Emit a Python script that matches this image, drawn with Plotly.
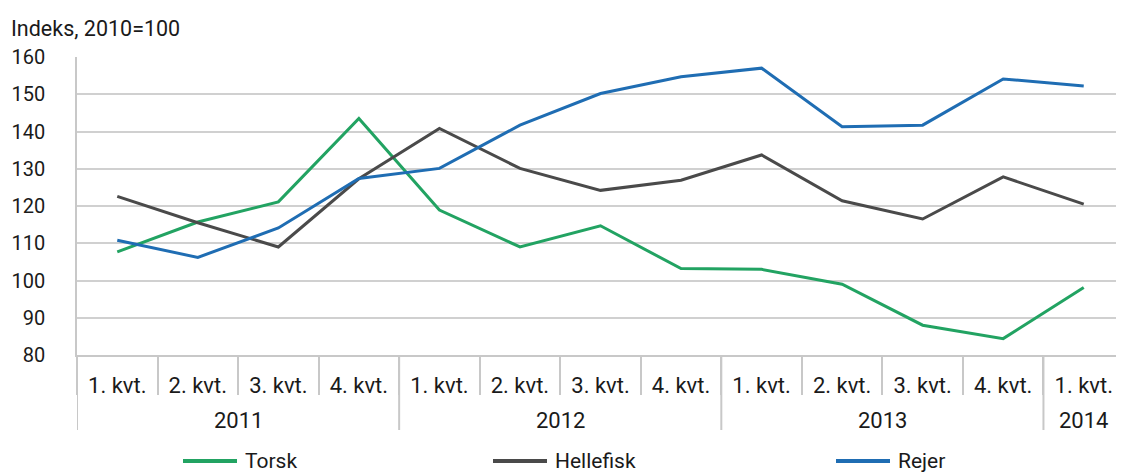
import plotly.graph_objects as go

years = ["2011"] * 4 + ["2012"] * 4 + ["2013"] * 4 + ["2014"]
quarters = ["1. kvt.", "2. kvt.", "3. kvt.", "4. kvt."] * 3 + ["1. kvt."]

torsk = [107.7, 115.7, 121.1, 143.5, 118.9, 109.0, 114.7, 103.2, 103.0, 99.0, 88.0, 84.4, 98.1]
hellefisk = [122.6, 115.5, 109.0, 127.3, 140.8, 130.1, 124.2, 126.9, 133.7, 121.4, 116.5, 127.8, 120.5]
rejer = [110.8, 106.2, 114.1, 127.4, 130.1, 141.7, 150.2, 154.7, 157.0, 141.3, 141.7, 154.1, 152.2]

series_names = ["Torsk", "Hellefisk", "Rejer"]
series_values = [torsk, hellefisk, rejer]
colors = ["#22a362", "#4a4a4a", "#1f6db3"]

y_ticks = [80, 90, 100, 110, 120, 130, 140, 150, 160]
y_title = "Indeks, 2010=100"

FONT = "Roboto"
TXT = "#1a1a1a"
LINEGRAY = "#c8c8c8"

idx = list(range(len(quarters)))

fig = go.Figure()
for name, vals, col in zip(series_names, series_values, colors):
    fig.add_trace(go.Scatter(
        x=idx, y=vals, mode="lines", name=name,
        line=dict(color=col, width=3), showlegend=False,
        customdata=[[y, q] for y, q in zip(years, quarters)],
        hovertemplate="%{customdata[1]} %{customdata[0]}: %{y}<extra>" + name + "</extra>",
    ))

# page has an 8px body margin; compensate so the plot lands where the reference has it
OFF = 8
W, H = 1124 - OFF, 472 - OFF
ml, mr, mt = 77 - OFF, 0, 57 - OFF
plot_bottom = 355 - OFF
mb = H - plot_bottom

fig.update_layout(
    width=W, height=H,
    margin=dict(l=ml, r=mr, t=mt, b=mb),
    paper_bgcolor="white", plot_bgcolor="white",
    font=dict(family=FONT, size=21, color=TXT),
    xaxis=dict(
        range=[-0.5, len(quarters) - 0.5],
        tickmode="array", tickvals=idx, ticktext=quarters,
        showgrid=False, zeroline=False,
        showline=True, linecolor=LINEGRAY, linewidth=1.5,
        ticks="", ticklabelstandoff=10,
        tickfont=dict(family=FONT, size=22, color=TXT),
        minor=dict(tickmode="linear", tick0=0.5, dtick=1, ticks="outside",
                   ticklen=38, tickcolor=LINEGRAY, tickwidth=2, showgrid=False),
    ),
    yaxis=dict(
        range=[80, 160], tickvals=y_ticks,
        showgrid=True, gridcolor="#d0d0d0", gridwidth=1.5,
        zeroline=False,
        showline=True, linecolor=LINEGRAY, linewidth=1.5,
        ticks="", ticklabelstandoff=26,
        tickfont=dict(family=FONT, size=20, color=TXT),
    ),
)

plot_w = W - ml - mr
plot_h = H - mt - mb

def px_x(px):
    return (px - OFF - ml) / plot_w

def px_y(py):
    return (H - mb - (py - OFF)) / plot_h

# year level: labels centred under their quarters, dividers at group boundaries
groups = []
for i, y in enumerate(years):
    if groups and groups[-1][0] == y:
        groups[-1][2] = i
    else:
        groups.append([y, i, i])
div_y1 = px_y(430)
bounds = [g[1] - 0.5 for g in groups] + [groups[-1][2] + 0.5]
for b in bounds:
    fig.add_shape(type="line", xref="x", yref="paper", x0=b, x1=b, y0=0, y1=div_y1,
                  line=dict(color=LINEGRAY, width=2))
for y, a, b in groups:
    fig.add_annotation(text=y, xref="x", yref="paper", x=(a + b) / 2, y=px_y(420),
                       xanchor="center", yanchor="middle", showarrow=False,
                       font=dict(family=FONT, size=22, color=TXT))

fig.add_annotation(
    text=y_title, xref="paper", yref="paper",
    x=px_x(9), y=px_y(28),
    xanchor="left", yanchor="middle", showarrow=False,
    font=dict(family=FONT, size=21.5, color=TXT),
)

# legend drawn manually at the bottom
leg_line_x = [183, 493, 836]
leg_y = px_y(461)
for name, col, lx in zip(series_names, colors, leg_line_x):
    fig.add_shape(type="line", xref="paper", yref="paper",
                  x0=px_x(lx), x1=px_x(lx + 54), y0=leg_y, y1=leg_y,
                  line=dict(color=col, width=4))
    fig.add_annotation(text=name, xref="paper", yref="paper",
                       x=px_x(lx + 60), y=leg_y,
                       xanchor="left", yanchor="middle", showarrow=False,
                       font=dict(family=FONT, size=21, color=TXT))

fig.write_html("out.html")
